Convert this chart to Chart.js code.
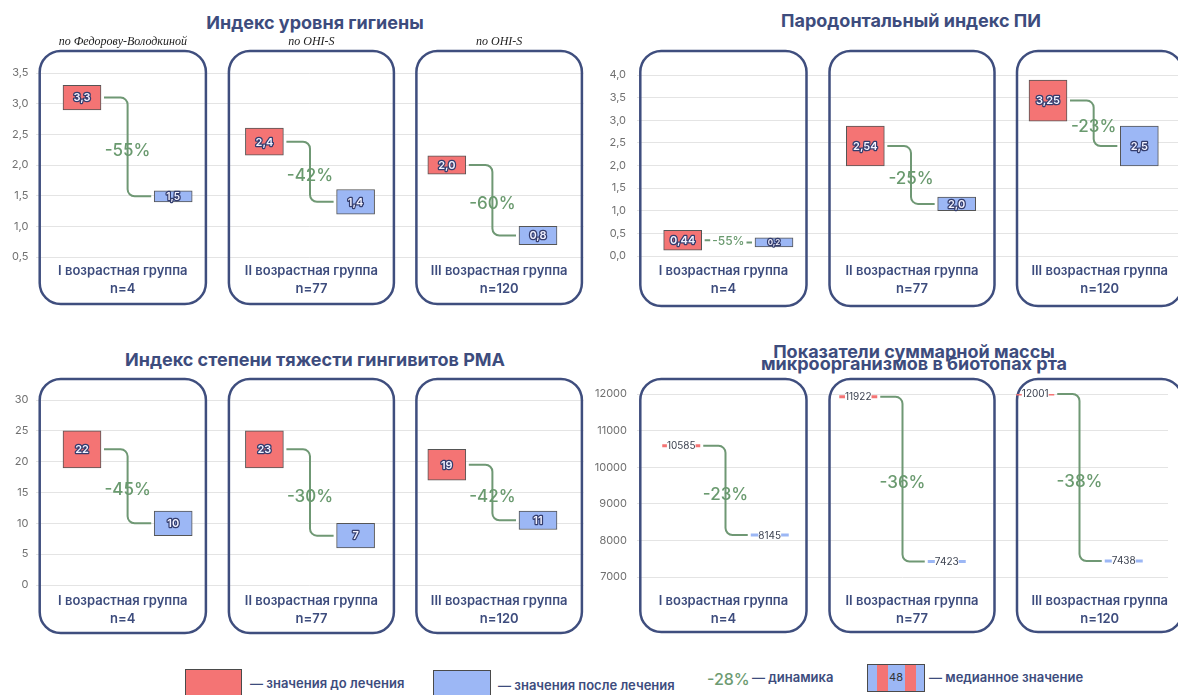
<!DOCTYPE html>
<html lang="ru">
<head>
<meta charset="utf-8">
<script src="https://cdn.jsdelivr.net/npm/chart.js@4.4.1/dist/chart.umd.min.js"></script>
<style>
  html, body { margin: 0; padding: 0; background: #fff; overflow: hidden; }
  body { width: 1178px; height: 695px; position: relative; font-family: Inter, "Noto Sans", sans-serif; }
  .box { position: absolute; }
  .title { position: absolute; transform: translate(-50%, -50%); white-space: nowrap;
           font: 700 18px Inter, sans-serif; color: #3d4c7d; text-align: center; }
  .legend-text { position: absolute; transform: translateY(-50%); white-space: nowrap;
                 font: 600 13px Inter, sans-serif; color: #3d4c7d; }
  .swatch { position: absolute; box-sizing: border-box; border: 1.5px solid #4a4a4a; }
</style>
</head>
<body>

<div class="title" style="left:315px; top:22px;">Индекс уровня гигиены</div>
<div class="title" style="left:911px; top:20px;">Пародонтальный индекс ПИ</div>
<div class="title" style="left:315px; top:359px;">Индекс степени тяжести гингивитов РМА</div>
<div class="title" style="left:914px; top:358px; line-height:12px;">Показатели суммарной массы<br>микроорганизмов в биотопах рта</div>

<div class="box" style="left:0; top:0;"><canvas id="hygiene" width="600" height="320"></canvas></div>
<div class="box" style="left:590px; top:0;"><canvas id="pi" width="600" height="320"></canvas></div>
<div class="box" style="left:0; top:330px;"><canvas id="pma" width="600" height="320"></canvas></div>
<div class="box" style="left:590px; top:330px;"><canvas id="mass" width="600" height="320"></canvas></div>

<!-- legend -->
<div class="swatch" style="left:185px; top:669px; width:57px; height:32px; background:#f47474;"></div>
<div class="legend-text" style="left:250px; top:683px;">— значения до лечения</div>
<div class="swatch" style="left:433px; top:670px; width:58px; height:32px; background:#9cb7f5;"></div>
<div class="legend-text" style="left:498px; top:685px;">— значения после лечения</div>
<div class="legend-text" style="left:707px; top:679px; font:500 16px Inter, sans-serif; color:#6d9b72;">-28%</div>
<div class="legend-text" style="left:752px; top:677px;">— динамика</div>
<div class="swatch" style="left:867px; top:664px; width:58px; height:28px;
     background:linear-gradient(to right,#9cb7f5 0 9px,#f47474 9px 20px,#9cb7f5 20px 37px,#f47474 37px 48px,#9cb7f5 48px);
     font:400 11px Inter, sans-serif; color:#333; text-align:center; line-height:25px;">48</div>
<div class="legend-text" style="left:929px; top:677px;">— медианное значение</div>

<script>
// age groups shared by all four charts
var groups = ['I возрастная группа', 'II возрастная группа', 'III возрастная группа'];
var groupN = [4, 77, 120];

// Индекс уровня гигиены: box ranges, medians, dynamics
var hygieneMethods = ['по Федорову-Володкиной', 'по OHI-S', 'по OHI-S'];
var hygieneBefore = [[2.9, 3.3], [2.16, 2.6], [1.85, 2.15]];
var hygieneAfter = [[1.4, 1.58], [1.2, 1.6], [0.7, 1.0]];
var hygieneMedBefore = [3.3, 2.4, 2.0];
var hygieneMedAfter = [1.5, 1.4, 0.8];
var hygieneChange = [-55, -42, -60];

// Пародонтальный индекс ПИ
var piBefore = [[0.13, 0.57], [1.99, 2.87], [2.98, 3.89]];
var piAfter = [[0.2, 0.4], [1.0, 1.3], [1.99, 2.87]];
var piMedBefore = [0.44, 2.54, 3.25];
var piMedAfter = [0.2, 2.0, 2.5];
var piChange = [-55, -25, -23];

// Индекс РМА
var pmaBefore = [[19, 25], [19, 25], [17, 22]];
var pmaAfter = [[8, 12], [6, 10], [9, 12]];
var pmaMedBefore = [22, 23, 19];
var pmaMedAfter = [10, 7, 11];
var pmaChange = [-45, -30, -42];

// суммарная масса микроорганизмов
var massBefore = [10585, 11922, 12001];
var massAfter = [8145, 7423, 7438];
var massChange = [-23, -36, -38];

var RED = '#f47474', BLUE = '#9cb7f5', GREEN = '#6a9a6f', NAVY = '#3d4c7d';
var panelBoxes = [[3.3, 169.5], [192.5, 357.5], [380, 545.5]];

function fmt(v, dec) {
  var s = (dec && Number.isInteger(v)) ? v.toFixed(1) : String(v);
  return s.replace('.', ',');
}

function roundRect(ctx, x, y, w, h, r) {
  ctx.beginPath();
  ctx.moveTo(x + r, y);
  ctx.arcTo(x + w, y, x + w, y + h, r);
  ctx.arcTo(x + w, y + h, x, y + h, r);
  ctx.arcTo(x, y + h, x, y, r);
  ctx.arcTo(x, y, x + w, y, r);
  ctx.closePath();
}

var panelPlugin = {
  id: 'panels',
  beforeDatasetsDraw: function (chart, args, o) {
    var ctx = chart.ctx, ca = chart.chartArea;
    ctx.save();
    panelBoxes.forEach(function (b, i) {
      var x0 = ca.left + b[0], x1 = ca.left + b[1], cx = (x0 + x1) / 2;
      roundRect(ctx, x0, o.top, x1 - x0, o.bottom - o.top, 21);
      ctx.lineWidth = 2.5;
      ctx.strokeStyle = '#3f4e7e';
      ctx.stroke();
      ctx.fillStyle = NAVY;
      ctx.font = '600 13px Inter';
      ctx.textAlign = 'center';
      ctx.textBaseline = 'middle';
      ctx.fillText(groups[i], cx, 271);
      ctx.fillText('n=' + groupN[i], cx, 289);
      if (o.methods) {
        ctx.fillStyle = '#222';
        ctx.font = 'italic 12px "Liberation Serif"';
        ctx.fillText(o.methods[i], cx, o.top - 9);
      }
    });
    ctx.restore();
  },
  afterDatasetsDraw: function (chart, args, o) {
    var ctx = chart.ctx;
    var red = chart.getDatasetMeta(0).data, blue = chart.getDatasetMeta(1).data;
    ctx.save();
    for (var i = 0; i < 3; i++) {
      var r = red[2 * i], b = blue[2 * i + 1];
      var rw = o.ticks ? 38 : r.width, bw = o.ticks ? 38 : b.width;
      var y1 = o.ticks ? r.y : (r.y + r.base) / 2;
      var y2 = o.ticks ? b.y : (b.y + b.base) / 2;
      var rr = r.x + rw / 2, bl = b.x - bw / 2;
      var x1 = rr + 3, x2 = bl - 3, vx = (rr + bl) / 2;
      var txt = o.change[i] + '%';

      ctx.strokeStyle = '#6f9874';
      ctx.lineWidth = 2;
      ctx.fillStyle = GREEN;
      ctx.textAlign = 'center';
      ctx.textBaseline = 'middle';
      if (Math.abs(y2 - y1) < 15) {
        // short step: straight link with the dynamics inline
        ctx.font = '500 12px Inter';
        var w = ctx.measureText(txt).width;
        ctx.beginPath();
        ctx.moveTo(x1, y1); ctx.lineTo(vx - w / 2 - 2, y1);
        ctx.moveTo(vx + w / 2 + 2, y2); ctx.lineTo(x2, y2);
        ctx.stroke();
        ctx.fillText(txt, vx, (y1 + y2) / 2);
      } else {
        var rad = Math.min(7, Math.abs(y2 - y1) / 2);
        ctx.beginPath();
        ctx.moveTo(x1, y1);
        ctx.arcTo(vx, y1, vx, y2, rad);
        ctx.arcTo(vx, y2, x2, y2, rad);
        ctx.lineTo(x2, y2);
        ctx.stroke();
        ctx.font = '500 17px Inter';
        ctx.fillText(txt, vx, (y1 + y2) / 2 + 4);
      }

      // median labels
      [[r, o.medBefore[i]], [b, o.medAfter[i]]].forEach(function (p) {
        var el = p[0], label = fmt(p[1], o.dec);
        if (o.ticks) {
          ctx.font = '400 10px Inter';
          var tw = ctx.measureText(label).width;
          ctx.fillStyle = '#fff';
          ctx.fillRect(el.x - tw / 2, el.y - 5, tw, 10);
          ctx.fillStyle = '#3c4250';
          ctx.fillText(label, el.x, el.y + 0.5);
        } else {
          var h = Math.abs(el.base - el.y);
          var fs = Math.max(8, Math.min(11, h - 1));
          var cy = (el.y + el.base) / 2;
          ctx.font = '600 ' + fs + 'px Inter';
          ctx.lineJoin = 'round';
          ctx.lineWidth = 2.5;
          ctx.strokeStyle = '#343d6e';
          ctx.strokeText(label, el.x, cy + 0.5);
          ctx.fillStyle = '#f2f2ff';
          ctx.fillText(label, el.x, cy + 0.5);
        }
      });
    }
    ctx.restore();
  }
};

function makeChart(id, c) {
  var before = [], after = [], labels = [];
  c.before.forEach(function (v, i) {
    before.push(v, null);
    after.push(null, c.after[i]);
    labels.push(groups[i] + ' до', groups[i] + ' после');
  });
  var ds;
  if (c.ticks) {
    ds = [
      { label: 'до лечения', data: before, showLine: false, pointStyle: 'line', pointRadius: 19,
        pointBorderWidth: 3, pointBorderColor: RED, borderColor: RED },
      { label: 'после лечения', data: after, showLine: false, pointStyle: 'line', pointRadius: 19,
        pointBorderWidth: 3, pointBorderColor: BLUE, borderColor: BLUE }
    ];
  } else {
    ds = [
      { label: 'до лечения', data: before, backgroundColor: RED, borderColor: '#555',
        borderWidth: 1, borderSkipped: false, barThickness: 38, grouped: false },
      { label: 'после лечения', data: after, backgroundColor: BLUE, borderColor: '#555',
        borderWidth: 1, borderSkipped: false, barThickness: 38, grouped: false }
    ];
  }
  return new Chart(document.getElementById(id), {
    type: c.ticks ? 'line' : 'bar',
    data: { labels: labels, datasets: ds },
    plugins: [panelPlugin],
    options: {
      responsive: false,
      animation: false,
      devicePixelRatio: 1,
      layout: { padding: c.pad },
      scales: {
        x: { display: false, offset: true },
        y: {
          min: c.min, max: c.max,
          afterFit: function (s) { s.width = c.axisWidth; },
          border: { display: false },
          grid: { color: '#e4e4e4', drawTicks: false },
          ticks: {
            stepSize: c.step, padding: c.tickPad, color: '#707070',
            font: { family: 'Inter', size: 11 },
            callback: function (v) { return c.dec ? v.toFixed(1).replace('.', ',') : String(v); }
          }
        }
      },
      plugins: {
        legend: { display: false },
        tooltip: { enabled: false },
        panels: {
          top: c.top, bottom: c.bottom, methods: c.methods, ticks: c.ticks, dec: c.dec,
          medBefore: c.medBefore, medAfter: c.medAfter, change: c.change
        }
      }
    }
  });
}

makeChart('hygiene', {
  before: hygieneBefore, after: hygieneAfter, medBefore: hygieneMedBefore, medAfter: hygieneMedAfter,
  change: hygieneChange, methods: hygieneMethods, dec: true, min: 0.5, max: 3.5, step: 0.5,
  axisWidth: 36.4, tickPad: 8, pad: { left: 0, right: 16.4, top: 73, bottom: 63 }, top: 51, bottom: 304
});
makeChart('pi', {
  before: piBefore, after: piAfter, medBefore: piMedBefore, medAfter: piMedAfter,
  change: piChange, dec: true, min: 0, max: 4, step: 0.5,
  axisWidth: 47, tickPad: 11, pad: { left: 0, right: 5, top: 75, bottom: 64 }, top: 51, bottom: 306
});
makeChart('pma', {
  before: pmaBefore, after: pmaAfter, medBefore: pmaMedBefore, medAfter: pmaMedAfter,
  change: pmaChange, dec: false, min: 0, max: 30, step: 5,
  axisWidth: 36.4, tickPad: 8, pad: { left: 0, right: 16.4, top: 70, bottom: 65 }, top: 49, bottom: 303
});
makeChart('mass', {
  before: massBefore, after: massAfter, medBefore: massBefore, medAfter: massAfter,
  change: massChange, dec: false, ticks: true, min: 7000, max: 12000, step: 1000,
  axisWidth: 47, tickPad: 10, pad: { left: 0, right: 5, top: 64, bottom: 73 }, top: 49, bottom: 302
});
</script>
</body>
</html>
